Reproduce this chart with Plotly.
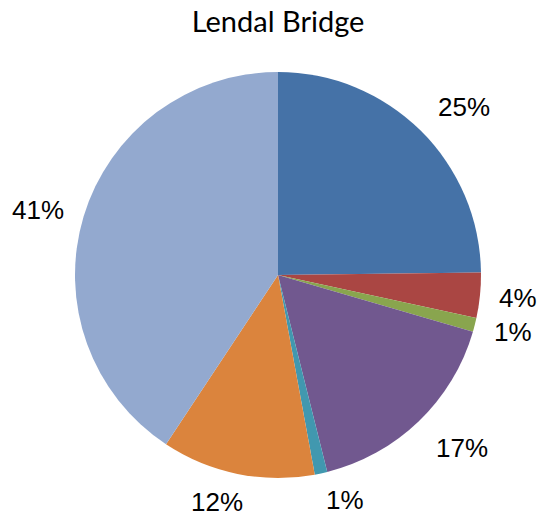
import math
import plotly.graph_objects as go

# Share of traffic by category at Lendal Bridge (percent)
categories = ["Cars", "Buses", "Coaches", "Vans", "HGVs", "Motorcycles", "Bicycles"]
values = [24.8, 3.6, 1.1, 16.6, 1.0, 12.2, 40.7]
colors = ["#4572A7", "#AA4643", "#89A54E", "#71588F", "#4198AF", "#DB843D", "#93A9CF"]

# Label placement: distance from centre (in pie radii) and angular nudge (degrees)
label_radius = [1.234, 1.187, 1.192, 1.244, 1.157, 1.158, 1.225]
label_nudge = [3.3, -0.3, -0.6, -2.9, -4.4, 3.5, -1.7]

W, H = 541, 517
L, T, S = 75, 72, 406  # square plot box: left, top, side (px)

fig = go.Figure(go.Pie(
    labels=categories,
    values=values,
    marker=dict(colors=colors, line=dict(color="white", width=0)),
    sort=False,
    direction="clockwise",
    rotation=0,
    textinfo="none",
    hoverinfo="label+percent",
    showlegend=False,
    domain=dict(x=[0, 1], y=[0, 1]),
))

# Percentage labels placed outside each slice near its mid-angle
total = sum(values)
annotations = []
cum = 0.0
for v, rf, nd in zip(values, label_radius, label_nudge):
    mid = math.radians((cum + v / 2) / total * 360 + nd)
    cum += v
    r = 0.5 * rf
    annotations.append(dict(
        x=0.5 + r * math.sin(mid), y=0.5 + r * math.cos(mid),
        xref="paper", yref="paper",
        text=f"{round(v / total * 100)}%",
        showarrow=False,
        font=dict(family="Arial", size=26, color="#000000"),
        xanchor="center", yanchor="middle",
    ))

fig.update_layout(
    width=W, height=H,
    margin=dict(l=L, r=W - L - S, t=T, b=H - T - S),
    paper_bgcolor="white",
    plot_bgcolor="white",
    title=dict(
        text="Lendal Bridge",
        x=(L + 203) / W, xanchor="center",
        y=1 - 22 / H, yanchor="middle",
        font=dict(family="Lato, Carlito, Calibri, sans-serif", size=29, color="#000000"),
    ),
    annotations=annotations,
)

fig.write_html("out.html")
